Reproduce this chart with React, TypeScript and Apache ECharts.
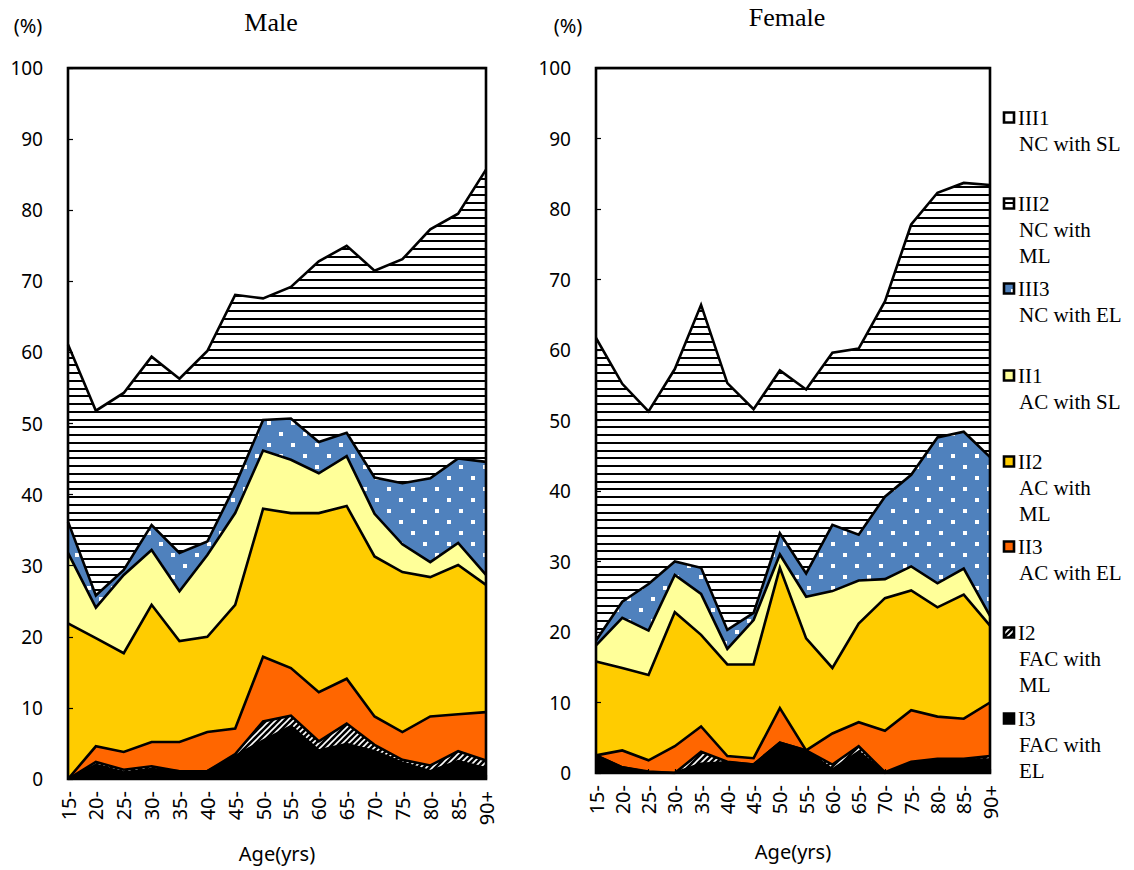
import React, { useEffect, useRef } from "react";
import * as echarts from "echarts";

// ---- data ----
const ageGroups = ["15-", "20-", "25-", "30-", "35-", "40-", "45-", "50-", "55-", "60-", "65-", "70-", "75-", "80-", "85-", "90+"];

// stacking order (bottom -> top)
const seriesKeys = ["I3", "I2", "II3", "II2", "II1", "III3", "III2", "III1"];

const maleI3 = [0, 2.0, 0.9, 1.4, 1.1, 1.1, 3.2, 5.4, 7.4, 4.0, 4.9, 3.9, 2.3, 1.1, 2.5, 1.5];
const maleI2 = [0, 0.4, 0.4, 0.4, 0, 0, 0.3, 2.7, 1.5, 1.3, 2.9, 0.9, 0.4, 0.8, 1.4, 1.1];
const maleII3 = [0, 2.2, 2.5, 3.4, 4.1, 5.5, 3.6, 9.1, 6.7, 6.9, 6.3, 4.0, 3.9, 6.9, 5.2, 6.8];
const maleII2 = [21.9, 15.2, 13.9, 19.3, 14.2, 13.4, 17.4, 20.8, 21.8, 25.2, 24.3, 22.5, 22.5, 19.6, 21.0, 17.9];
const maleII1 = [9.9, 4.3, 11.0, 7.7, 7.0, 11.5, 12.9, 8.2, 7.5, 5.6, 7.0, 6.0, 3.9, 2.1, 3.1, 1.4];
const maleIII3 = [4.4, 1.7, 0.7, 3.5, 5.4, 1.9, 3.9, 4.3, 5.8, 4.4, 3.3, 5.1, 8.6, 11.8, 11.9, 15.9];
const maleIII2 = [24.9, 26.0, 24.9, 23.7, 24.5, 26.8, 26.8, 17.1, 18.5, 25.4, 26.3, 29.1, 31.5, 35.0, 34.4, 41.1];
const maleIII1 = [38.9, 48.2, 45.7, 40.6, 43.7, 39.8, 31.9, 32.4, 30.8, 27.2, 25.0, 28.5, 26.9, 22.7, 20.5, 14.3];

const femaleI3 = [2.5, 0.8, 0.1, 0, 1.3, 1.5, 1.2, 4.3, 3.2, 0.5, 3.0, 0, 1.4, 1.9, 1.9, 1.9];
const femaleI2 = [0, 0, 0.1, 0, 1.7, 0.1, 0, 0, 0, 0.7, 0.8, 0.1, 0.2, 0.1, 0.1, 0.5];
const femaleII3 = [0, 2.4, 1.6, 3.8, 3.6, 0.8, 0.9, 4.9, 0, 4.4, 3.4, 5.9, 7.3, 6.0, 5.7, 7.6];
const femaleII2 = [13.3, 11.7, 12.1, 19.0, 13.0, 13.0, 13.3, 19.9, 15.9, 9.3, 14.0, 18.8, 17.0, 15.5, 17.6, 10.9];
const femaleII1 = [2.3, 7.1, 6.3, 5.3, 5.8, 2.2, 6.3, 1.9, 5.9, 10.9, 6.1, 2.7, 3.4, 3.4, 3.7, 1.4];
const femaleIII3 = [0.7, 2.3, 6.6, 1.9, 3.7, 2.7, 1.0, 3.0, 3.3, 9.4, 6.5, 11.7, 13.0, 20.7, 19.4, 22.5];
const femaleIII2 = [42.9, 30.9, 24.5, 27.3, 37.3, 35.0, 28.9, 23.1, 26.1, 24.4, 26.4, 27.7, 35.5, 34.7, 35.3, 38.6];
const femaleIII1 = [38.3, 44.8, 48.7, 42.7, 33.6, 44.7, 48.4, 42.9, 45.6, 40.4, 39.8, 33.1, 22.2, 17.7, 16.3, 16.6];

const maleData = [maleI3, maleI2, maleII3, maleII2, maleII1, maleIII3, maleIII2, maleIII1];
const femaleData = [femaleI3, femaleI2, femaleII3, femaleII2, femaleII1, femaleIII3, femaleIII2, femaleIII1];

// legend (top -> bottom)
const legendKeys = ["III1", "III2", "III3", "II1", "II2", "II3", "I2", "I3"];
const legendLines = [
  ["III1", "NC with SL"],
  ["III2", "NC with", "ML"],
  ["III3", "NC with EL"],
  ["II1", "AC with SL"],
  ["II2", "AC with", "ML"],
  ["II3", "AC with EL"],
  ["I2", "FAC with", "ML"],
  ["I3", "FAC with", "EL"],
];
const legendTops = [118, 204, 289, 376, 462, 547, 633, 719];

const yMin = 0;
const yMax = 100;
const yStep = 10;

// ---- layout ----
const MALE = { left: 68, top: 68, width: 418, height: 711 };
const FEMALE = { left: 596, top: 68, width: 394, height: 705 };

function makePattern(w: number, h: number, draw: (ctx: CanvasRenderingContext2D) => void) {
  const c = document.createElement("canvas");
  c.width = w;
  c.height = h;
  const ctx = c.getContext("2d")!;
  draw(ctx);
  return { image: c.toDataURL(), repeat: "repeat", imageWidth: w, imageHeight: h } as any;
}

export default function App() {
  const ref = useRef<HTMLDivElement>(null);

  useEffect(() => {
    if (!ref.current) return;
    const chart = echarts.init(ref.current, null, { renderer: "svg" });

    const hLines = makePattern(8, 31, (ctx) => {
      ctx.fillStyle = "#fff";
      ctx.fillRect(0, 0, 8, 31);
      ctx.fillStyle = "#000";
      [0, 8, 16, 23].forEach((y) => ctx.fillRect(0, y, 8, 2));
    });
    const blueDots = makePattern(24, 22, (ctx) => {
      ctx.fillStyle = "#4F81BD";
      ctx.fillRect(0, 0, 24, 22);
      ctx.fillStyle = "#fff";
      ctx.fillRect(3, 3, 4, 4);
      ctx.fillRect(15, 14, 4, 4);
    });
    const hatch = makePattern(6, 6, (ctx) => {
      ctx.fillStyle = "#000";
      ctx.fillRect(0, 0, 6, 6);
      ctx.strokeStyle = "#fff";
      ctx.lineWidth = 1.6;
      ctx.beginPath();
      ctx.moveTo(0, 6);
      ctx.lineTo(6, 0);
      ctx.moveTo(-1, 1);
      ctx.lineTo(1, -1);
      ctx.moveTo(5, 7);
      ctx.lineTo(7, 5);
      ctx.stroke();
    });

    const fills: Record<string, any> = {
      I3: "#000000",
      I2: hatch,
      II3: "#FF6600",
      II2: "#FFCC00",
      II1: "#FFFF99",
      III3: blueDots,
      III2: hLines,
      III1: "#FFFFFF",
    };

    const axisFont = { fontFamily: "Noto Sans", color: "#000" };

    const makeX = (gridIndex: number, nameGap: number) => ({
      type: "category",
      gridIndex,
      data: ageGroups,
      boundaryGap: false,
      z: 5,
      axisLine: { show: false },
      axisTick: { show: true, inside: true, length: 4, lineStyle: { color: "#000", width: 1.2 } },
      axisLabel: { ...axisFont, fontSize: 20, rotate: 90, margin: 12, interval: 0 },
      name: "Age(yrs)",
      nameLocation: "middle",
      nameGap,
      nameTextStyle: { ...axisFont, fontSize: 20 },
    });
    const makeY = (gridIndex: number) => ({
      type: "value",
      gridIndex,
      min: yMin,
      max: yMax,
      interval: yStep,
      z: 5,
      axisLine: { show: false },
      axisTick: { show: true, inside: true, length: 5, lineStyle: { color: "#000", width: 1.2 } },
      splitLine: { show: false },
      axisLabel: { ...axisFont, fontSize: 19, margin: 25 },
    });

    const series: any[] = [];
    const addSet = (data: number[][], idx: number, prefix: string) => {
      seriesKeys.forEach((k, i) => {
        series.push({
          name: prefix + k,
          type: "line",
          xAxisIndex: idx,
          yAxisIndex: idx,
          stack: prefix + "area",
          data: data[i],
          showSymbol: false,
          symbol: "none",
          lineStyle: { width: 0 },
          areaStyle: { color: fills[k], opacity: 1 },
          z: 2,
          silent: true,
        });
      });
      seriesKeys.forEach((k, i) => {
        series.push({
          name: prefix + k + "-edge",
          type: "line",
          xAxisIndex: idx,
          yAxisIndex: idx,
          stack: prefix + "edge",
          data: data[i],
          showSymbol: false,
          symbol: "none",
          lineStyle: { width: 2.6, color: "#000", join: "miter" },
          z: 3,
          silent: true,
        });
      });
    };
    addSet(maleData, 0, "m");
    addSet(femaleData, 1, "f");

    const serif = "'Liberation Serif', 'Times New Roman', serif";
    const frame = (g: typeof MALE) => ({
      type: "rect",
      z: 100,
      shape: { x: g.left, y: g.top, width: g.width, height: g.height },
      style: { fill: "none", stroke: "#000", lineWidth: 2.6 },
    });
    const graphic: any[] = [
      frame(MALE),
      frame(FEMALE),
      { type: "text", x: 271, y: 22, style: { text: "Male", font: `26px ${serif}`, fill: "#000", textAlign: "center", textVerticalAlign: "middle" } },
      { type: "text", x: 787, y: 17, style: { text: "Female", font: `26px ${serif}`, fill: "#000", textAlign: "center", textVerticalAlign: "middle" } },
      { type: "text", x: 28, y: 25, style: { text: "(%)", font: "20px 'Noto Sans'", fill: "#000", textAlign: "center", textVerticalAlign: "middle" } },
      { type: "text", x: 568, y: 25, style: { text: "(%)", font: "20px 'Noto Sans'", fill: "#000", textAlign: "center", textVerticalAlign: "middle" } },
    ];
    legendKeys.forEach((k, i) => {
      const y0 = legendTops[i];
      graphic.push({
        type: "rect",
        z: 100,
        shape: { x: 1004, y: y0 - 5.5, width: 10, height: 10 },
        style: { fill: fills[k], stroke: "#000", lineWidth: 2.6 },
      });
      legendLines[i].forEach((t, j) => {
        graphic.push({
          type: "text",
          z: 100,
          x: j === 0 ? 1018 : 1019,
          y: y0 + j * 26,
          style: { text: t, font: `21px ${serif}`, fill: "#000", textAlign: "left", textVerticalAlign: "middle" },
        });
      });
    });

    chart.setOption({
      animation: false,
      backgroundColor: "#fff",
      grid: [
        { ...MALE, containLabel: false, show: false },
        { ...FEMALE, containLabel: false, show: false },
      ],
      xAxis: [makeX(0, 64), makeX(1, 68)],
      yAxis: [makeY(0), makeY(1)],
      series,
      graphic,
    });

    return () => chart.dispose();
  }, []);

  return (
    <div
      ref={ref}
      style={{ position: "fixed", left: 0, top: 0, width: 1134, height: 870, background: "#fff" }}
    />
  );
}
